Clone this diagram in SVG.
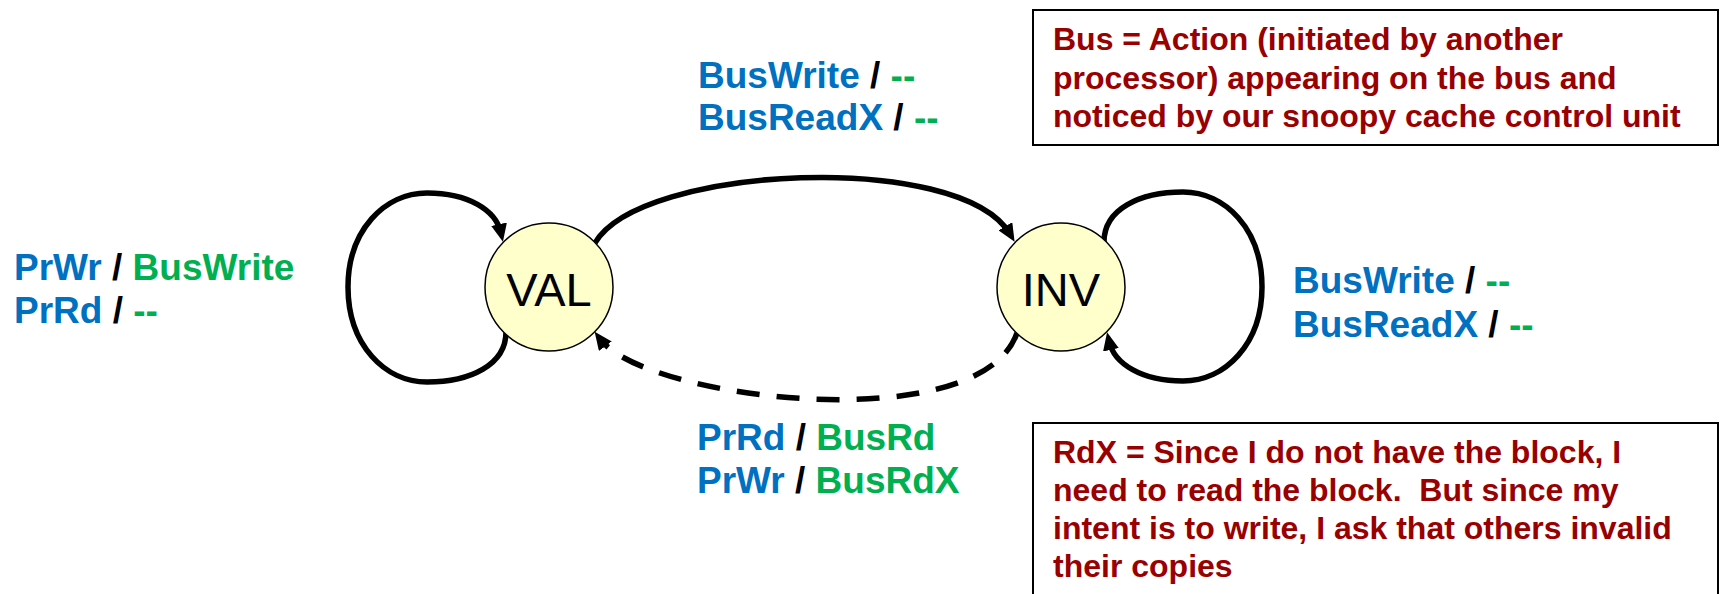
<svg xmlns="http://www.w3.org/2000/svg" width="1721" height="594" viewBox="0 0 1721 594">
<style>
.node{fill:#FFFFCC;stroke:#000;stroke-width:1.5}
.ntext{font-family:"Liberation Sans",Arial,sans-serif;font-size:47px;fill:#000;text-anchor:middle}
.edge{fill:none;stroke:#000;stroke-width:5.5}
.dash{stroke-dasharray:23 17}
.lbl{font-family:"Liberation Sans",Arial,sans-serif;font-size:37px;font-weight:bold}
.b{fill:#0070C0}.g{fill:#00B050}.k{fill:#000}
.note{fill:#fff;stroke:#000;stroke-width:2}
.ntxt{font-family:"Liberation Sans",Arial,sans-serif;font-size:32px;font-weight:bold;fill:#990000}
</style>
<defs>
<marker id="arr" viewBox="0 0 18 16" refX="9" refY="8" markerWidth="18" markerHeight="16" markerUnits="userSpaceOnUse" orient="auto">
<path d="M0,0 L18,8 L0,16 z" fill="#000"/>
</marker>
</defs>
<rect width="1721" height="594" fill="#fff"/>
<g id="connectors">
<path class="edge" marker-end="url(#arr)" d="M506,332 C506,365 470,382 427,382 C385,382 348,345 348,287 C348,230 385,193 427,193 C468,193 496,210 501,233"/>
<path class="edge" marker-end="url(#arr)" d="M1104,242 C1104,209 1140,192 1183,192 C1225,192 1262,229 1262,287 C1262,344 1225,381 1183,381 C1142,381 1114,364 1109,341"/>
<path class="edge" marker-end="url(#arr)" d="M595,243 C640,165 960,150 1010,234"/>
<path class="edge dash" marker-end="url(#arr)" d="M1017,333 C980,440 645,400 600,339"/>
</g>
<g id="node-VAL">
<circle class="node" cx="549" cy="287" r="64"/>
<text class="ntext" x="549" y="306">VAL</text>
</g>
<g id="node-INV">
<circle class="node" cx="1061" cy="287" r="64"/>
<text class="ntext" x="1061" y="306">INV</text>
</g>
<g id="label-VAL-loop">
<text class="lbl" x="14" y="280"><tspan class="b">PrWr</tspan><tspan class="k"> / </tspan><tspan class="g">BusWrite</tspan></text>
<text class="lbl" x="14" y="323"><tspan class="b">PrRd</tspan><tspan class="k"> / </tspan><tspan class="g">--</tspan></text>
</g>
<g id="label-VAL-INV">
<text class="lbl" x="698" y="88"><tspan class="b">BusWrite</tspan><tspan class="k"> / </tspan><tspan class="g">--</tspan></text>
<text class="lbl" x="698" y="130"><tspan class="b">BusReadX</tspan><tspan class="k"> / </tspan><tspan class="g">--</tspan></text>
</g>
<g id="label-INV-loop">
<text class="lbl" x="1293" y="293"><tspan class="b">BusWrite</tspan><tspan class="k"> / </tspan><tspan class="g">--</tspan></text>
<text class="lbl" x="1293" y="337"><tspan class="b">BusReadX</tspan><tspan class="k"> / </tspan><tspan class="g">--</tspan></text>
</g>
<g id="label-INV-VAL">
<text class="lbl" x="697" y="450"><tspan class="b">PrRd</tspan><tspan class="k"> / </tspan><tspan class="g">BusRd</tspan></text>
<text class="lbl" x="697" y="493"><tspan class="b">PrWr</tspan><tspan class="k"> / </tspan><tspan class="g">BusRdX</tspan></text>
</g>
<g id="note-bus">
<rect class="note" x="1033" y="10" width="685" height="135"/>
<text class="ntxt" x="1053" y="50">Bus = Action (initiated by another</text>
<text class="ntxt" x="1053" y="89">processor) appearing on the bus and</text>
<text class="ntxt" x="1053" y="127">noticed by our snoopy cache control unit</text>
</g>
<g id="note-rdx">
<rect class="note" x="1033" y="423" width="685" height="200"/>
<text class="ntxt" x="1053" y="463">RdX = Since I do not have the block, I</text>
<text class="ntxt" x="1053" y="501" xml:space="preserve">need to read the block.  But since my</text>
<text class="ntxt" x="1053" y="539">intent is to write, I ask that others invalid</text>
<text class="ntxt" x="1053" y="577">their copies</text>
</g>
</svg>
